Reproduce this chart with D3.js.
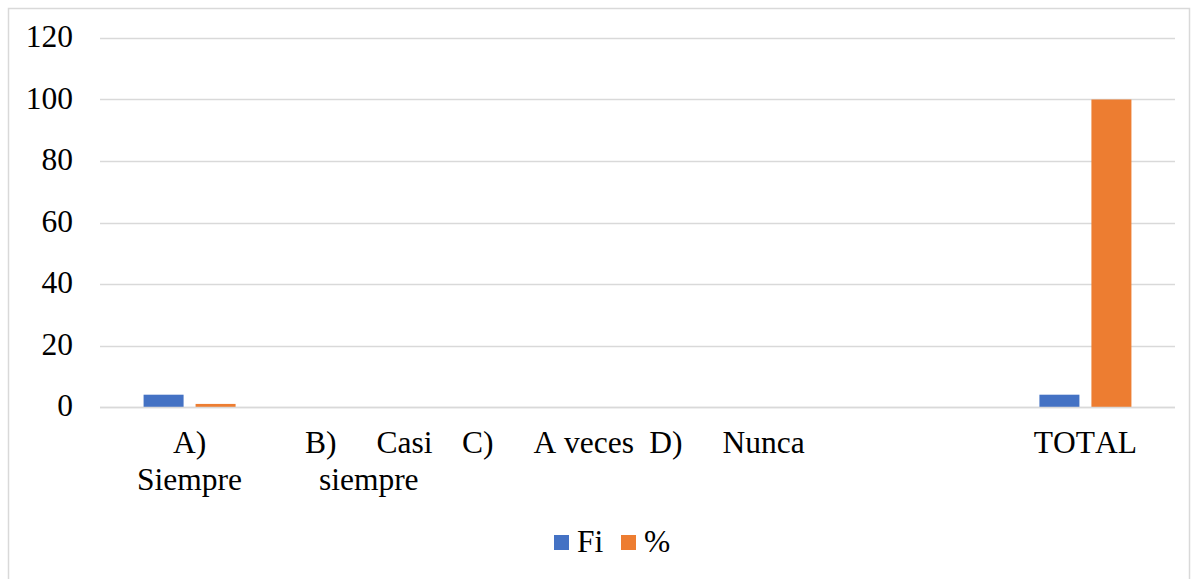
<!DOCTYPE html>
<html>
<head>
<meta charset="utf-8">
<script src="https://cdn.jsdelivr.net/npm/d3@7"></script>
<style>
  body { margin: 0; background: #fff; }
  svg text { font-family: "Liberation Serif", "Times New Roman", serif; fill: #000; font-kerning: none; }
</style>
</head>
<body>
<svg width="1198" height="579"></svg>
<script>
// data
const categories = ["A)\tSiempre", "B)\tCasi siempre", "C)\tA veces", "D)\tNunca", "", "TOTAL"];
// how Excel wrapped each label (tab = wide gap)
const labelLines = [["A)", "Siempre"], ["B)\tCasi", "siempre"], ["C)\tA veces"], ["D)\tNunca"], [""], ["TOTAL"]];
const fiValues = [4, 0, 0, 0, null, 4];
const pctValues = [1, 0, 0, 0, null, 100];
const seriesNames = ["Fi", "%"];
const yTicks = [0, 20, 40, 60, 80, 100, 120];

const colors = ["#4472C4", "#ED7D31"];
const fontSize = "31.5px";

const svg = d3.select("svg")
    .attr("font-family", "'Liberation Serif', 'Times New Roman', serif"),
  width = +svg.attr("width"),
  height = +svg.attr("height");

// outer chart frame
svg.append("rect")
  .attr("x", 8.5).attr("y", 8.5)
  .attr("width", 1181).attr("height", 600)
  .attr("fill", "none").attr("stroke", "#d9d9d9").attr("stroke-width", 1.5);

const margin = { left: 100, right: 23 };
const plotW = width - margin.left - margin.right;

const x = d3.scaleBand().domain(d3.range(categories.length)).range([margin.left, margin.left + plotW]);
const y = d3.scaleLinear().domain([0, 120]).range([407, 38]);

// gridlines
svg.append("g")
  .selectAll("line")
  .data(yTicks)
  .join("line")
  .attr("x1", margin.left).attr("x2", margin.left + plotW)
  .attr("y1", d => Math.round(y(d)) + 0.5).attr("y2", d => Math.round(y(d)) + 0.5)
  .attr("stroke", "#d9d9d9").attr("stroke-width", 1.5);

// y axis labels
svg.append("g")
  .selectAll("text")
  .data(yTicks)
  .join("text")
  .attr("x", 73)
  .attr("y", d => y(d))
  .attr("dy", "0.3em")
  .attr("text-anchor", "end")
  .style("font-size", fontSize)
  .text(d => d);

// bars
const barW = 40, gap = 12;
const rows = categories.map((c, i) => ({ i, vals: [fiValues[i], pctValues[i]] }));
const groups = svg.append("g").selectAll("g").data(rows).join("g");
groups.selectAll("rect")
  .data(d => d.vals.map((v, s) => ({ i: d.i, s, v })).filter(d => d.v))
  .join("rect")
  .attr("x", d => x(d.i) + x.bandwidth() / 2 + (d.s === 0 ? -(barW + gap / 2) : gap / 2))
  .attr("width", barW)
  .attr("y", d => y(d.v))
  .attr("height", d => y(0) - y(d.v))
  .attr("fill", d => colors[d.s]);

// redraw baseline on top of bars
svg.append("line")
  .attr("x1", margin.left).attr("x2", margin.left + plotW)
  .attr("y1", Math.round(y(0)) + 0.5).attr("y2", Math.round(y(0)) + 0.5)
  .attr("stroke", "#d9d9d9").attr("stroke-width", 1.5);

// category labels
const tabGap = 40;
const labelG = svg.append("g");
labelLines.forEach((lines, i) => {
  const cx = x(i) + x.bandwidth() / 2;
  lines.forEach((line, j) => {
    const parts = line.split("\t");
    const t = labelG.append("text")
      .attr("y", 453 + j * 37)
      .style("font-size", fontSize);
    parts.forEach((p, k) => {
      t.append("tspan").attr("dx", k > 0 ? tabGap : 0).text(p);
    });
    const w = t.node().getComputedTextLength() + tabGap * (parts.length - 1);
    t.attr("x", cx - w / 2);
  });
});

// legend
const legend = svg.append("g").attr("transform", "translate(554,535)");
const legItems = [{ x: 0, name: seriesNames[0], c: colors[0] }, { x: 67, name: seriesNames[1], c: colors[1] }];
legItems.forEach(d => {
  legend.append("rect").attr("x", d.x).attr("y", 0).attr("width", 15).attr("height", 15).attr("fill", d.c);
  legend.append("text").attr("x", d.x + 23).attr("y", 17).style("font-size", fontSize).text(d.name);
});
</script>
</body>
</html>
